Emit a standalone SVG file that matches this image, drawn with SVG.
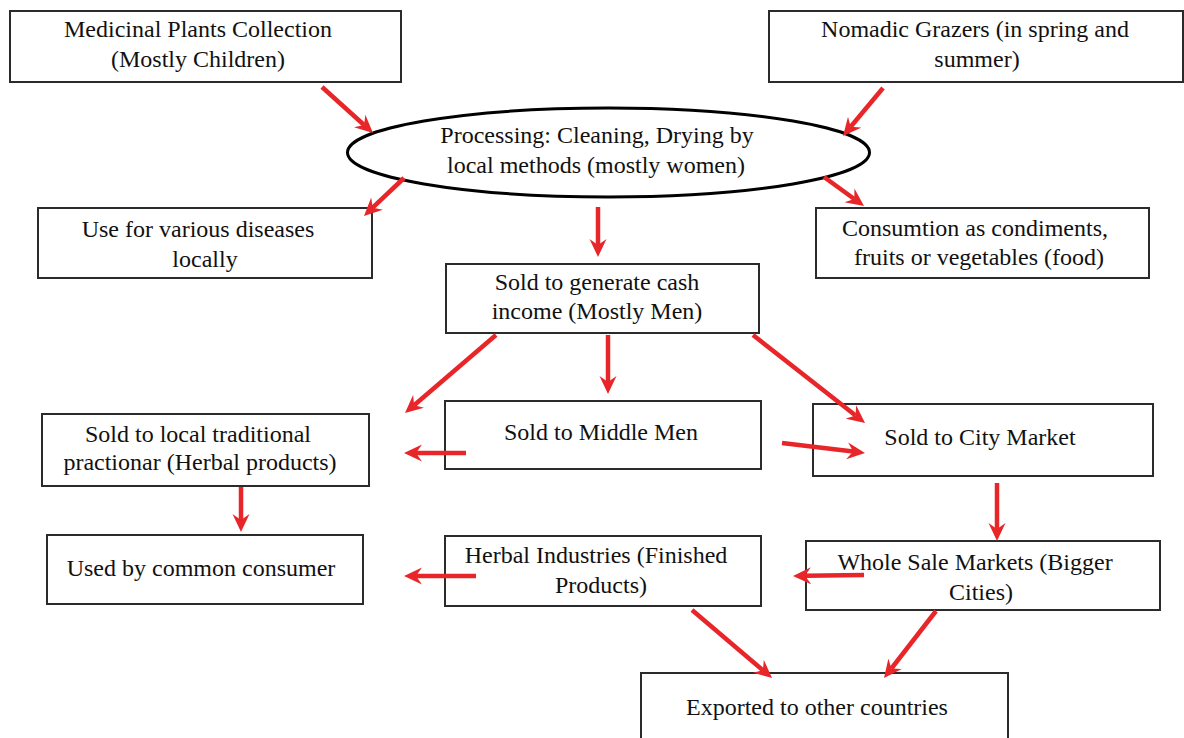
<svg xmlns="http://www.w3.org/2000/svg" width="1184" height="738" viewBox="0 0 1184 738">
<defs>
<style>
.box{fill:#fff;stroke:#2b2b2b;stroke-width:2}
.ell{fill:#fff;stroke:#000;stroke-width:3}
text{font-family:"Liberation Serif","Times New Roman",serif;font-size:24px;fill:#111;text-anchor:middle}
.arr{stroke:#e8262a;stroke-width:4.5;fill:none;marker-end:url(#ah)}
</style>
<marker id="ah" viewBox="0 -9 18 18" refX="6" refY="0" markerWidth="18" markerHeight="18" markerUnits="userSpaceOnUse" orient="auto">
<path d="M0,-8.5 L18,0 L0,8.5 L6,0 Z" fill="#e8262a"/>
</marker>
</defs>
<rect width="1184" height="738" fill="#fff"/>
<g id="n1"><rect class="box" x="10" y="11" width="391" height="71"/><text x="198" y="37">Medicinal Plants Collection</text><text x="198" y="67">(Mostly Children)</text></g>
<g id="n2"><rect class="box" x="769" y="11" width="414" height="71"/><text x="975" y="37">Nomadic Grazers (in spring and</text><text x="977" y="67">summer)</text></g>
<g id="n3"><ellipse class="ell" cx="608.5" cy="152.5" rx="261" ry="44.5"/><text x="597" y="143">Processing: Cleaning, Drying by</text><text x="596" y="173">local methods (mostly women)</text></g>
<g id="n4"><rect class="box" x="38" y="208" width="334" height="70"/><text x="198" y="237">Use for various diseases</text><text x="205" y="267">locally</text></g>
<g id="n5"><rect class="box" x="816" y="208" width="333" height="70"/><text x="975" y="236">Consumtion as condiments,</text><text x="979" y="265">fruits or vegetables (food)</text></g>
<g id="n6"><rect class="box" x="446" y="264" width="313" height="69"/><text x="597" y="290">Sold to generate cash</text><text x="597" y="319">income (Mostly Men)</text></g>
<g id="n7"><rect class="box" x="42" y="414" width="327" height="72"/><text x="198" y="442">Sold to local traditional</text><text x="200" y="470">practionar (Herbal products)</text></g>
<g id="n8"><rect class="box" x="445" y="401" width="316" height="68"/><text x="601" y="440">Sold to Middle Men</text></g>
<g id="n9"><rect class="box" x="813" y="404" width="340" height="72"/><text x="980" y="445">Sold to City Market</text></g>
<g id="n10"><rect class="box" x="47" y="535" width="316" height="69"/><text x="201" y="576">Used by common consumer</text></g>
<g id="n11"><rect class="box" x="445" y="536" width="316" height="70"/><text x="596" y="563">Herbal Industries (Finished</text><text x="601" y="593">Products)</text></g>
<g id="n12"><rect class="box" x="806" y="541" width="354" height="69"/><text x="975" y="570">Whole Sale Markets (Bigger</text><text x="981" y="600">Cities)</text></g>
<g id="n13"><rect class="box" x="641" y="673" width="367" height="70"/><text x="817" y="715">Exported to other countries</text></g>
<g id="connectors">
<line class="arr" x1="322" y1="87" x2="364.1" y2="125"/>
<line class="arr" x1="883" y1="88" x2="850.7" y2="126.8"/>
<line class="arr" x1="404" y1="178" x2="372.7" y2="207.7"/>
<line class="arr" x1="824" y1="177" x2="854.3" y2="199"/>
<line class="arr" x1="598" y1="207" x2="598" y2="245"/>
<line class="arr" x1="496" y1="335" x2="414.1" y2="405.2"/>
<line class="arr" x1="608" y1="335" x2="608" y2="382"/>
<line class="arr" x1="753" y1="335" x2="855.6" y2="415.6"/>
<line class="arr" x1="466" y1="453" x2="416" y2="453"/>
<line class="arr" x1="782" y1="443" x2="853.1" y2="451.6"/>
<line class="arr" x1="241" y1="487" x2="241" y2="520"/>
<line class="arr" x1="997" y1="483" x2="997" y2="529"/>
<line class="arr" x1="864" y1="575" x2="805" y2="575.8"/>
<line class="arr" x1="476" y1="576" x2="416" y2="576"/>
<line class="arr" x1="692" y1="610" x2="762.9" y2="670.2"/>
<line class="arr" x1="936" y1="611" x2="891.4" y2="668.5"/>
</g>
</svg>
